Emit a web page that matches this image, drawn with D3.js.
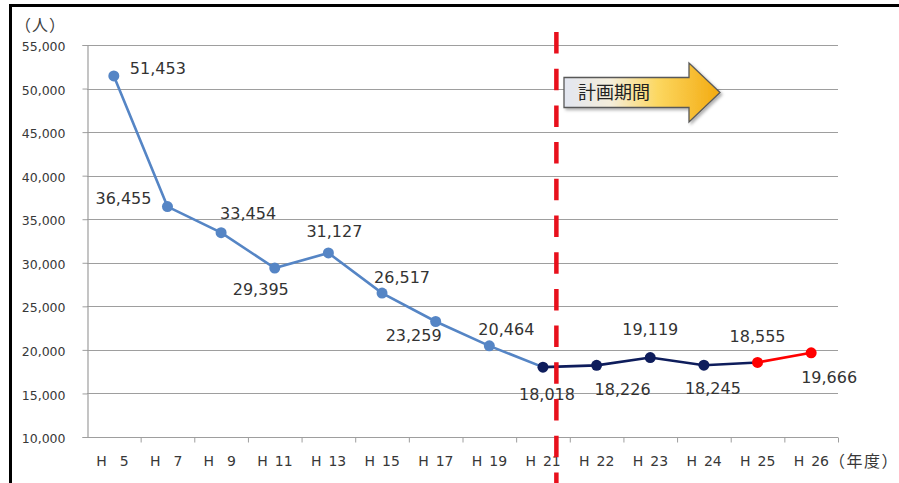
<!DOCTYPE html>
<html><head><meta charset="utf-8">
<script src="https://cdn.jsdelivr.net/npm/d3@7"></script>
<style>
html,body{margin:0;padding:0;background:#fff;}
svg{display:block;}
</style>
</head><body>
<svg id="chart" width="899" height="483"></svg>
<script>
// ---- data ----
const categories = ["H 5","H 7","H 9","H 11","H 13","H 15","H 17","H 19","H 21","H 22","H 23","H 24","H 25","H 26"];
const values = [51453,36455,33454,29395,31127,26517,23259,20464,18018,18226,19119,18245,18555,19666];
const pastIdx = [0,1,2,3,4,5,6,7,8];      // light blue segment
const planIdx = [8,9,10,11,12];           // navy segment
const latestIdx = [12,13];                // red segment
const yTicks = [10000,15000,20000,25000,30000,35000,40000,45000,50000,55000];
const yUnit = "（人）";
const xUnit = "（年度）";
const planLabel = "計画期間";
const splitCategory = "H 21";

// ---- layout / style ----
const svg = d3.select("#chart");
const L = 87, R = 838, T = 45, B = 437;
const x = d3.scaleBand().domain(categories).range([L, R]).padding(0);
const y = d3.scaleLinear().domain([10000, 55000]).range([B, T]);
const cx = i => x(categories[i]) + x.bandwidth() / 2;
const cy = i => y(values[i]);
const colBlue = "#5585c5", colNavy = "#0e1d5c", colRed = "#ff0000";
const ptColor = i => i <= 7 ? colBlue : (i <= 11 ? colNavy : colRed);
// label offsets (dx, dy of label centre relative to point)
const labelOffsets = [[44,-8],[-44,-8],[27,-20],[-14,21],[6,-22],[20,-16],[-22,14],[17,-17],[4,27],[26,24],[0,-28],[9,23],[0,-26],[18,24]];

// frame (top & left border)
svg.append("path").attr("d", "M10.5,483 V5.5 H899").attr("fill","none").attr("stroke","#000").attr("stroke-width",3);

// gridlines
svg.append("g").selectAll("line").data(yTicks.filter(d => d > 10000)).join("line")
  .attr("x1", L).attr("x2", R).attr("y1", d => Math.round(y(d)) + 0.5).attr("y2", d => Math.round(y(d)) + 0.5)
  .attr("stroke", "#9e9e9e").attr("stroke-width", 1.2);

// y axis
const yAxis = svg.append("g").attr("transform", `translate(${L + 0.5},0)`)
  .call(d3.axisLeft(y).tickValues(yTicks).tickFormat(d3.format(",")).tickSize(5).tickPadding(17));
yAxis.select(".domain").attr("stroke", "#9e9e9e").attr("stroke-width", 1.2);
yAxis.selectAll(".tick line").attr("stroke", "#9e9e9e");
yAxis.selectAll(".tick text").attr("font-family", "DejaVu Sans").attr("font-size", 12.5).attr("fill", "#383838").attr("dy", "0.45em");

// x axis (ticks at band boundaries)
const xb = d3.scaleLinear().domain([0, categories.length]).range([L, R]);
const xAxis = svg.append("g").attr("transform", `translate(0,${B + 0.5})`)
  .call(d3.axisBottom(xb).tickValues(d3.range(1, categories.length + 1)).tickSize(5).tickFormat(""));
xAxis.select(".domain").attr("stroke", "#9e9e9e").attr("stroke-width", 1.2).attr("d", `M${L},0H${R}`);
xAxis.selectAll(".tick line").attr("stroke", "#9e9e9e");

// x labels: "H" and number
const xl = svg.append("g").attr("font-family", "DejaVu Sans").attr("font-size", 14).attr("fill", "#383838");
xl.selectAll("text.h").data(categories).join("text").attr("class","h")
  .attr("x", d => x(d) + x.bandwidth() / 2 - 17.5).attr("y", 466).text(d => d.split(" ")[0]);
xl.selectAll("text.n").data(categories).join("text").attr("class","n")
  .attr("x", d => { const n = d.split(" ")[1]; return x(d) + x.bandwidth() / 2 + (n.length === 1 ? 6 : 0); })
  .attr("y", 466).text(d => d.split(" ")[1]);
svg.append("text").attr("x", 829).attr("y", 467).attr("font-family", "Noto Sans CJK JP").attr("font-size", 16)
  .attr("letter-spacing", 1.5).attr("fill", "#383838").text(xUnit);
svg.append("text").attr("x", 15).attr("y", 31).attr("font-family", "Noto Sans CJK JP").attr("font-size", 16)
  .attr("letter-spacing", 1).attr("fill", "#404040").text(yUnit);

// lines
const line = d3.line().x(i => cx(i)).y(i => cy(i));
svg.append("path").datum(pastIdx).attr("d", line).attr("fill","none").attr("stroke", colBlue).attr("stroke-width", 2.6);
svg.append("path").datum(planIdx).attr("d", line).attr("fill","none").attr("stroke", colNavy).attr("stroke-width", 2.6);
svg.append("path").datum(latestIdx).attr("d", line).attr("fill","none").attr("stroke", colRed).attr("stroke-width", 2.6);

// points
svg.append("g").selectAll("circle").data(values.map((v, i) => i)).join("circle")
  .attr("cx", cx).attr("cy", cy).attr("r", 5.5).attr("fill", ptColor);

// labels
svg.append("g").attr("font-family", "DejaVu Sans").attr("font-size", 16).attr("fill", "#333")
  .selectAll("text").data(values.map((v, i) => i)).join("text")
  .attr("text-anchor", "middle")
  .attr("x", i => cx(i) + labelOffsets[i][0])
  .attr("y", i => cy(i) + labelOffsets[i][1])
  .attr("dy", "0.37em")
  .text(i => d3.format(",")(values[i]));

// red dashed divider
const sx = x(splitCategory) + x.bandwidth() * 0.75;
svg.append("line").attr("x1", sx).attr("x2", sx).attr("y1", 32).attr("y2", 483)
  .attr("stroke", "#e8101c").attr("stroke-width", 4.5).attr("stroke-dasharray", "21.5 15.2");

// plan-period arrow
const defs = svg.append("defs");
const g = defs.append("linearGradient").attr("id", "arrowGrad").attr("x1", "0").attr("x2", "1").attr("y1","0").attr("y2","0");
g.append("stop").attr("offset", "0%").attr("stop-color", "#e2e6f1");
g.append("stop").attr("offset", "30%").attr("stop-color", "#f5eedb");
g.append("stop").attr("offset", "60%").attr("stop-color", "#fcd760");
g.append("stop").attr("offset", "100%").attr("stop-color", "#f3aa10");
const f = defs.append("filter").attr("id", "shadow").attr("x","-10%").attr("y","-10%").attr("width","130%").attr("height","140%");
f.append("feDropShadow").attr("dx", 2).attr("dy", 2).attr("stdDeviation", 1.5).attr("flood-color", "#000").attr("flood-opacity", 0.3);
svg.append("path")
  .attr("d", "M564,77.5 H689 V63 L720,92.5 L689,122 V107.5 H564 Z")
  .attr("fill", "url(#arrowGrad)").attr("stroke", "#595959").attr("stroke-width", 1.3).attr("filter", "url(#shadow)");
svg.append("text").attr("x", 578).attr("y", 93).attr("dy", "0.36em").attr("font-family", "Noto Sans CJK JP")
  .attr("font-size", 18).attr("fill", "#222").text(planLabel);
</script>
</body></html>
